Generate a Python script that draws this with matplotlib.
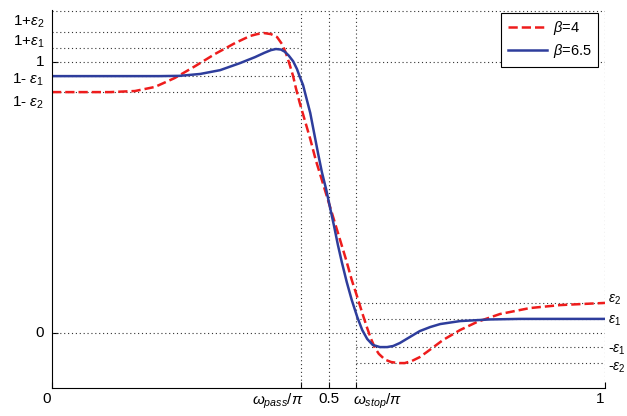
import numpy as np
import matplotlib.pyplot as plt
import matplotlib.transforms as mtransforms

plt.rcParams['font.family'] = 'Liberation Sans'
plt.rcParams['font.size'] = 11
plt.rcParams['mathtext.fontset'] = 'custom'
plt.rcParams['mathtext.rm'] = 'Liberation Sans'
plt.rcParams['mathtext.it'] = 'Liberation Sans:italic'

# band edges / tolerances (normalised frequency w/pi)
w_pass = 0.45
w_stop = 0.55
eps1 = 0.052
eps2 = 0.11
y_top = 1.19

# beta = 4 (red dashed)
x_b4 = [0.000, 0.105, 0.150, 0.186, 0.222, 0.259, 0.295, 0.331, 0.358, 0.371,
        0.383, 0.396, 0.407, 0.416, 0.423, 0.430, 0.436, 0.441, 0.448, 0.456,
        0.467, 0.477, 0.488, 0.499, 0.510, 0.521, 0.532, 0.542, 0.552, 0.561,
        0.570, 0.577, 0.584, 0.591, 0.602, 0.613, 0.626, 0.638, 0.651, 0.665,
        0.678, 0.707, 0.738, 0.769, 0.810, 0.864, 0.919, 1.000]
y_b4 = [0.889, 0.889, 0.893, 0.908, 0.941, 0.985, 1.030, 1.070, 1.096, 1.103,
        1.107, 1.103, 1.092, 1.066, 1.033, 0.989, 0.948, 0.904, 0.849, 0.793,
        0.716, 0.638, 0.565, 0.491, 0.417, 0.343, 0.269, 0.196, 0.133, 0.074,
        0.018, -0.022, -0.055, -0.077, -0.098, -0.107, -0.111, -0.111, -0.103, -0.089,
        -0.070, -0.026, 0.011, 0.041, 0.070, 0.092, 0.103, 0.111]

# beta = 6.5 (blue solid)
x_b65 = [0.000, 0.195, 0.231, 0.268, 0.304, 0.340, 0.367, 0.384, 0.396, 0.405,
         0.414, 0.421, 0.428, 0.436, 0.443, 0.448, 0.454, 0.459, 0.467, 0.474,
         0.481, 0.488, 0.496, 0.503, 0.510, 0.517, 0.524, 0.533, 0.542, 0.552,
         0.561, 0.570, 0.580, 0.593, 0.606, 0.617, 0.629, 0.647, 0.665, 0.684,
         0.702, 0.738, 0.792, 0.846, 1.000]
y_b65 = [0.948, 0.948, 0.949, 0.956, 0.970, 0.996, 1.018, 1.034, 1.044, 1.048,
         1.046, 1.038, 1.024, 1.003, 0.974, 0.946, 0.915, 0.875, 0.812, 0.738,
         0.664, 0.594, 0.528, 0.461, 0.395, 0.325, 0.262, 0.188, 0.122, 0.059,
         0.011, -0.022, -0.044, -0.052, -0.052, -0.048, -0.037, -0.015, 0.007, 0.022,
         0.033, 0.044, 0.050, 0.052, 0.052]

# tick labels
left_vals = [1 + eps2, 1 + eps1, 1.0, 1 - eps1, 1 - eps2, 0.0]
left_labels = [r'1+$\varepsilon_2$', r'1+$\varepsilon_1$', '1',
               r'1- $\varepsilon_1$', r'1- $\varepsilon_2$', '0']
left_dy = [10, 6, 0, -4, -11, 0]   # label nudges (px), like the original
right_vals = [eps2, eps1, -eps1, -eps2]
right_labels = [r'$\varepsilon_2$', r'$\varepsilon_1$', r'-$\varepsilon_1$', r'-$\varepsilon_2$']
right_dy = [3, -2, -3, -5]
x_vals = [0.0, w_pass, 0.5, w_stop, 1.0]
x_labels = ['0', r'$\omega_{pass}/\pi$', '0.5', r'$\omega_{stop}/\pi$', '1']

fig = plt.figure(figsize=(6.27, 4.16), dpi=100)
ax = fig.add_axes([52/627, 28/416, 553/627, 378/416])
ax.set_xlim(0, 1)
ax.set_ylim(-0.203, 1.192)

dot = dict(color='0.2', linestyle=(0, (1, 2.5)), linewidth=0.8)
# full width / height guide lines
for yv in [y_top, 1.0, 0.0]:
    ax.plot([0, 1], [yv, yv], **dot)
for xv in [w_pass, 0.5, w_stop, 1.0]:
    ax.plot([xv, xv], [-0.203, y_top], **dot)
# passband / stopband tolerance lines
for yv in [1 + eps2, 1 + eps1, 1 - eps1, 1 - eps2]:
    ax.plot([0, w_pass], [yv, yv], **dot)
for yv in [eps2, eps1, -eps1, -eps2]:
    ax.plot([w_stop, 1], [yv, yv], **dot)

ax.plot(x_b4, y_b4, '--', color='#ee1c1c', linewidth=1.8, label=r'$\beta$=4')
ax.plot(x_b65, y_b65, '-', color='#2e3d9c', linewidth=1.8, label=r'$\beta$=6.5')

ax.spines['top'].set_visible(False)
ax.spines['right'].set_visible(False)
ax.set_xticks(x_vals)
ax.set_yticks([1.0, 0.0])
ax.set_xticklabels([])
ax.set_yticklabels([])
ax.tick_params(direction='in', length=4, width=0.8)

ytrans = mtransforms.blended_transform_factory(ax.transAxes, ax.transData)
xtrans = mtransforms.blended_transform_factory(ax.transData, ax.transAxes)
for v, lab, dy in zip(left_vals, left_labels, left_dy):
    t = mtransforms.offset_copy(ytrans, fig=fig, x=-8, y=dy, units='dots')
    ax.text(0, v, lab, transform=t, ha='right', va='center')
for v, lab, dy in zip(right_vals, right_labels, right_dy):
    t = mtransforms.offset_copy(ytrans, fig=fig, x=3, y=dy, units='dots')
    ax.text(1, v, lab, transform=t, ha='left', va='center', fontsize=10)
x_ha = ['center', 'right', 'center', 'left', 'center']
x_dx = [-5, 3, 0, -3, -5]
for v, lab, ha, dx in zip(x_vals, x_labels, x_ha, x_dx):
    t = mtransforms.offset_copy(xtrans, fig=fig, x=dx, y=-4, units='dots')
    ax.text(v, 0, lab, transform=t, ha=ha, va='top')

leg = ax.legend(loc='upper right', bbox_to_anchor=(0.988, 0.993), borderaxespad=0,
                fancybox=False, edgecolor='k', framealpha=1, handlelength=2.7,
                handletextpad=0.4, borderpad=0.45, labelspacing=0.35, fontsize=10.5)
leg.get_frame().set_linewidth(0.8)

fig.savefig('out.png', dpi=100)
